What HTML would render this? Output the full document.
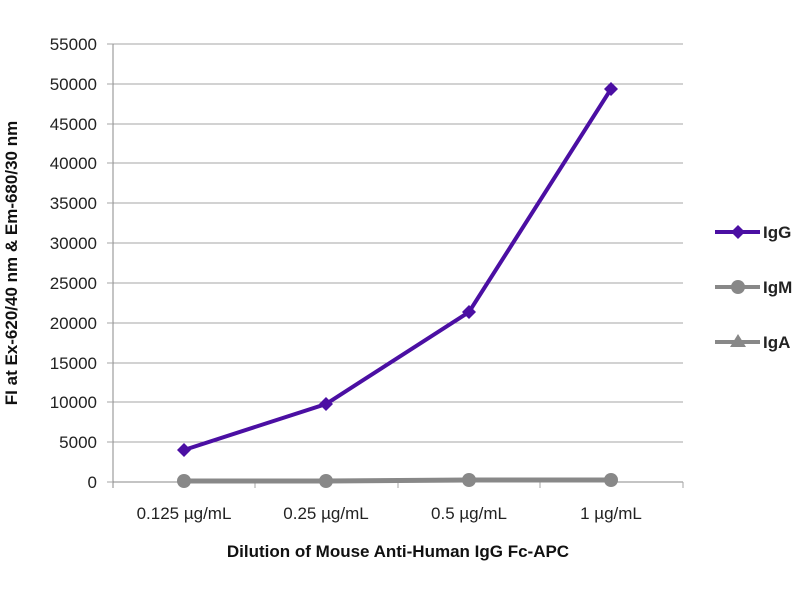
<!DOCTYPE html>
<html><head><style>body{margin:0;background:#fff}</style></head><body>
<svg width="800" height="600" xmlns="http://www.w3.org/2000/svg" font-family="Liberation Sans, sans-serif">
<rect width="800" height="600" fill="#fff"/>
<g stroke="#a6a6a6" stroke-width="1">
<line x1="113" y1="44" x2="683" y2="44"/><line x1="113" y1="84" x2="683" y2="84"/><line x1="113" y1="124" x2="683" y2="124"/><line x1="113" y1="163" x2="683" y2="163"/><line x1="113" y1="203" x2="683" y2="203"/><line x1="113" y1="243" x2="683" y2="243"/><line x1="113" y1="283" x2="683" y2="283"/><line x1="113" y1="323" x2="683" y2="323"/><line x1="113" y1="363" x2="683" y2="363"/><line x1="113" y1="402" x2="683" y2="402"/><line x1="113" y1="442" x2="683" y2="442"/>
<line x1="113" y1="482" x2="683" y2="482" stroke="#888"/>
<line x1="113" y1="44" x2="113" y2="488" stroke="#888"/>
<line x1="255" y1="482" x2="255" y2="488"/><line x1="398" y1="482" x2="398" y2="488"/><line x1="540" y1="482" x2="540" y2="488"/><line x1="683" y1="482" x2="683" y2="488"/>
<line x1="107" y1="44" x2="113" y2="44"/><line x1="107" y1="84" x2="113" y2="84"/><line x1="107" y1="124" x2="113" y2="124"/><line x1="107" y1="163" x2="113" y2="163"/><line x1="107" y1="203" x2="113" y2="203"/><line x1="107" y1="243" x2="113" y2="243"/><line x1="107" y1="283" x2="113" y2="283"/><line x1="107" y1="323" x2="113" y2="323"/><line x1="107" y1="363" x2="113" y2="363"/><line x1="107" y1="402" x2="113" y2="402"/><line x1="107" y1="442" x2="113" y2="442"/><line x1="107" y1="482" x2="113" y2="482"/>
</g>
<g font-size="17" fill="#222" text-anchor="end">
<text x="97" y="50">55000</text><text x="97" y="90">50000</text><text x="97" y="130">45000</text><text x="97" y="169">40000</text><text x="97" y="209">35000</text><text x="97" y="249">30000</text><text x="97" y="289">25000</text><text x="97" y="329">20000</text><text x="97" y="369">15000</text><text x="97" y="408">10000</text><text x="97" y="448">5000</text><text x="97" y="488">0</text>
</g>
<g font-size="17" fill="#222" text-anchor="middle">
<text x="184" y="519">0.125 µg/mL</text><text x="326" y="519">0.25 µg/mL</text><text x="469" y="519">0.5 µg/mL</text><text x="611" y="519">1 µg/mL</text>
</g>
<text x="398" y="557" font-size="17" font-weight="bold" text-anchor="middle" fill="#111">Dilution of Mouse Anti-Human IgG Fc-APC</text>
<text transform="translate(17,263) rotate(-90)" font-size="17" font-weight="bold" text-anchor="middle" fill="#111">FI at Ex-620/40 nm &amp; Em-680/30 nm</text>
<polyline points="184,481 326,481 469,480 611,480" fill="none" stroke="#888" stroke-width="5"/>
<g fill="#888"><circle cx="184" cy="481" r="7"/><circle cx="326" cy="481" r="7"/><circle cx="469" cy="480" r="7"/><circle cx="611" cy="480" r="7"/></g>
<polyline points="184,450 326,404 469,312 611,89" fill="none" stroke="#4b0fa3" stroke-width="4"/>
<g fill="#4b0fa3"><path d="M184,443 l7,7 -7,7 -7,-7z"/><path d="M326,397 l7,7 -7,7 -7,-7z"/><path d="M469,305 l7,7 -7,7 -7,-7z"/><path d="M611,82 l7,7 -7,7 -7,-7z"/></g>
<line x1="715" y1="232" x2="760" y2="232" stroke="#4b0fa3" stroke-width="4"/><path d="M738,225 l7,7 -7,7 -7,-7z" fill="#4b0fa3"/>
<line x1="715" y1="287" x2="760" y2="287" stroke="#888" stroke-width="4"/><circle cx="738" cy="287" r="7" fill="#888"/>
<line x1="715" y1="342" x2="760" y2="342" stroke="#888" stroke-width="4"/><path d="M738,334 l8,13 -16,0z" fill="#888"/>
<g font-size="17" font-weight="bold" fill="#222"><text x="763" y="238">IgG</text><text x="763" y="293">IgM</text><text x="763" y="348">IgA</text></g>
</svg>
</body></html>
